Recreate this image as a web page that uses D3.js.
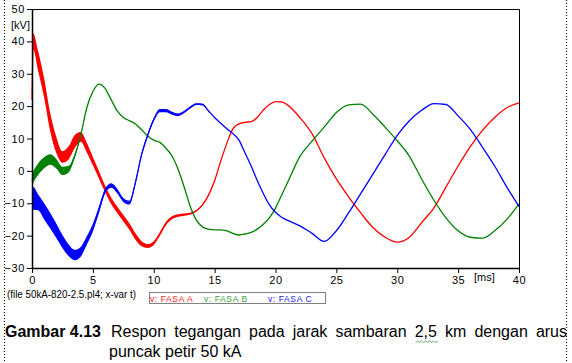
<!DOCTYPE html>
<html>
<head>
<meta charset="utf-8">
<script src="https://cdn.jsdelivr.net/npm/d3@7/dist/d3.min.js"></script>
<style>
  html, body { margin: 0; padding: 0; background: #fff; }
  svg { display: block; }
  text { font-family: "Liberation Sans", Arial, sans-serif; }
</style>
</head>
<body>
<svg id="chart" width="572" height="363"></svg>
<script>
// ---- data (time in ms, voltages in kV) ----
const timeMs = [0, 0.1, 0.5, 1, 1.5, 2, 2.5, 3, 3.5, 4, 4.5, 5, 5.5, 6, 6.5, 7, 7.5, 8, 8.5, 9, 9.5, 10,
  10.5, 11, 11.5, 12, 12.5, 13, 13.5, 14, 14.5, 15, 15.5, 16, 16.5, 17, 17.5, 18, 18.5, 19, 19.5, 20, 20.5,
  21, 22, 23, 24, 25, 26, 27, 28, 29, 30, 31, 32, 33, 34, 35, 36, 37, 38, 39, 40];

const fasaA = [22, 40, 34, 25.5, 15, 8, 4.3, 5.5, 9, 10.5, 7.2, 3, -1.2, -5.5, -9.2, -12, -14.6, -17.2, -20.3, -22.5, -23.2, -22.3,
  -19.5, -16.3, -14.5, -13.8, -13.5, -13.2, -12.3, -10.5, -7.5, -3, 3, 8.5, 13, 14.5, 15, 15.2, 16.5, 18.8, 20.5, 21.4, 21.3,
  20.3, 16.5, 11.5, 4, -2.5, -8, -13, -17.5, -20.5, -22, -20.5, -16, -11.5, -5, 1.5, 7.5, 12.5, 16.5, 19.5, 21];

const fasaB = [-3, -2, 0.5, 2.5, 3.5, 2.2, 0, 0.5, 4.5, 11, 19.5, 24.5, 26.8, 25.5, 22, 18.5, 16.5, 15.5, 14.5, 12.7, 10.8, 9.5,
  8.8, 7, 4.6, 0.5, -5, -11, -15.2, -17.3, -18, -18.2, -18.2, -18.5, -19.3, -19.8, -19.5, -19, -18, -16.5, -14.5, -11.5, -7.5,
  -3.5, 4.4, 9.2, 13.5, 18, 20.4, 20.6, 17.5, 13.5, 9.3, 4.5, -2.5, -9, -14.5, -18.5, -20.5, -20.8, -18.5, -15, -10.2];

const fasaC = [-8, -8.5, -9.7, -12.5, -15.4, -18.5, -21.8, -24.5, -26, -25, -21.5, -17.5, -12, -6.3, -4.5, -6.2, -9, -9.8, -3.5, 5, 11, 15.8,
  18.6, 18.6, 17.8, 17.3, 18.2, 19.6, 20.6, 20.5, 18.5, 16.5, 14.7, 13, 11.5, 9.5, 5.5, 1.5, -3, -7, -10.5, -12.8, -14.3,
  -15.3, -17, -19.3, -21.8, -18.5, -13, -7, -1, 5, 11, 15.5, 18.7, 20.8, 20.5, 17, 12.8, 7.3, 1.5, -5, -11];

// half-width (kV) of the fast oscillation band around each curve (missing entries = 0)
const bandA = [0, 2.5, 3, 3, 2.8, 2.5, 1.8, 2, 2, 1.5, 1.5, 1.3, 1.2, 1, 1, 1, 1, 1, 1, 0.8, 0.6, 0.6,
  0.55, 0.5, 0.45, 0.4, 0.35, 0.3, 0.25, 0.2, 0.15, 0.1, 0.05, 0];
const bandB = [1.8, 1.8, 1.8, 1.7, 1.6, 1.5, 1.3, 1.0, 0.6, 0.2, 0];
const bandC = [3, 3.5, 2.5, 2.5, 2.4, 2.2, 2, 1.8, 1.6, 1.5, 1.3, 1.2, 1.0, 0.8, 0.7, 0.7, 0.6, 0.6, 0.6, 0.5, 0.5, 0.5,
  0.5, 0.5, 0.45, 0.4, 0.35, 0.3, 0.25, 0.2, 0.1, 0];

const seriesNames = ["v: FASA A", "v: FASA B", "v: FASA C"];
const seriesColors = ["#ff0000", "#008000", "#0000ff"];
const legendColors = ["#ff2020", "#35a035", "#2020ff"];
const xTicks = [0, 5, 10, 15, 20, 25, 30, 35, 40];
const yTicks = [-30, -20, -10, 0, 10, 20, 30, 40, 50];
const fileLabel = "(file 50kA-820-2.5.pl4; x-var t)";
const captionBold = "Gambar 4.13";
const captionLine1 = "Respon tegangan pada jarak sambaran 2,5 km dengan arus";
const captionLine2 = "puncak petir 50 kA";

// ---- drawing ----
const svg = d3.select("#chart");
svg.append("rect").attr("width", 572).attr("height", 363).attr("fill", "#fff");

// dotted frame lines
[4, 566].forEach(xx => {
  svg.append("line").attr("x1", xx + 0.5).attr("x2", xx + 0.5).attr("y1", 0).attr("y2", 363)
    .attr("stroke", "#000").attr("stroke-width", 1).attr("stroke-dasharray", "1,2");
});

const x = d3.scaleLinear().domain([0, 40]).range([32, 519]);
const y = d3.scaleLinear().domain([-30, 50]).range([268, 9]);

// plot box (top & right)
svg.append("path")
  .attr("d", `M${x(0)},${y(50) + 0.5}H${x(40) + 0.5}V${y(-30)}`)
  .attr("fill", "none").attr("stroke", "#000").attr("stroke-width", 1);

const seriesVals = [fasaA, fasaB, fasaC];
const seriesBands = [bandA, bandB, bandC];

seriesVals.forEach((vals, k) => {
  const band = seriesBands[k];
  const pts = timeMs.map((t, i) => ({ t, v: vals[i], w: band[i] || 0 }));
  const area = d3.area()
    .x(d => x(d.t)).y0(d => y(d.v - d.w)).y1(d => y(d.v + d.w))
    .curve(d3.curveMonotoneX);
  const line = d3.line().x(d => x(d.t)).y(d => y(d.v)).curve(d3.curveMonotoneX);
  svg.append("path").datum(pts).attr("d", area).attr("fill", seriesColors[k]);
  svg.append("path").datum(pts).attr("d", line)
    .attr("fill", "none").attr("stroke", seriesColors[k]).attr("stroke-width", 1.3);
});

// axes
const yAxis = svg.append("g").attr("transform", `translate(${x(0)},0)`)
  .call(d3.axisLeft(y).tickValues(yTicks).tickSize(5).tickSizeOuter(0).tickPadding(2));
const xAxis = svg.append("g").attr("transform", `translate(0,${y(-30)})`)
  .call(d3.axisBottom(x).tickValues(xTicks).tickSize(5).tickSizeOuter(0).tickPadding(3));
[yAxis, xAxis].forEach(g => {
  g.selectAll("path.domain").attr("stroke", "#000").attr("stroke-width", 1.5);
  g.selectAll(".tick line").attr("stroke", "#000").attr("stroke-width", 1);
  g.selectAll("text").attr("fill", "#000").style("font-size", "11px")
    .style("font-family", '"Liberation Sans", Arial, sans-serif').style("letter-spacing", "0.6px");
});

// unit labels
svg.append("text").attr("x", 11).attr("y", 28.5).text("[kV]").style("font-size", "11px");
svg.append("text").attr("x", 474).attr("y", 281).text("[ms]").style("font-size", "11px");

// file label
svg.append("text").attr("x", 7).attr("y", 297.5).text(fileLabel)
  .style("font-size", "10px").attr("textLength", 129).attr("lengthAdjust", "spacingAndGlyphs");

// legend box
svg.append("rect").attr("x", 149.5).attr("y", 292.5).attr("width", 176).attr("height", 11)
  .attr("fill", "none").attr("stroke", "#000").attr("stroke-dasharray", "1,1");
const legendX = [150, 204, 268];
seriesNames.forEach((n, k) => {
  svg.append("text").attr("x", legendX[k]).attr("y", 301.5).text(n)
    .attr("fill", legendColors[k]).style("font-size", "8.5px").style("letter-spacing", "0.6px");
});

// caption
svg.append("text").attr("x", 5).attr("y", 337).text(captionBold)
  .style("font-size", "16px").style("font-weight", "bold").attr("textLength", 96)
  .attr("lengthAdjust", "spacingAndGlyphs");
const words = captionLine1.split(" ");
const cx0 = 111, cx1 = 567;
const wNodes = words.map(wd => svg.append("text").attr("y", 337).text(wd).style("font-size", "16px"));
const widths = wNodes.map(n => n.node().getComputedTextLength());
const gap = (cx1 - cx0 - d3.sum(widths)) / (words.length - 1);
let cx = cx0;
wNodes.forEach((n, i) => { n.attr("x", cx); if (words[i] === "2,5") {
    const sx = cx, sw = widths[i];
    const zz = d3.range(0, Math.floor(sw / 2) + 1).map(j => [sx + 1 + j * 2, 341 + (j % 2 ? 0 : 1.5)]);
    svg.append("path").attr("d", d3.line()(zz)).attr("fill", "none").attr("stroke", "#4a9a4a").attr("stroke-width", 0.8);
  }
  cx += widths[i] + gap; });
svg.append("text").attr("x", 109).attr("y", 357).text(captionLine2).style("font-size", "16px");
</script>
</body>
</html>
